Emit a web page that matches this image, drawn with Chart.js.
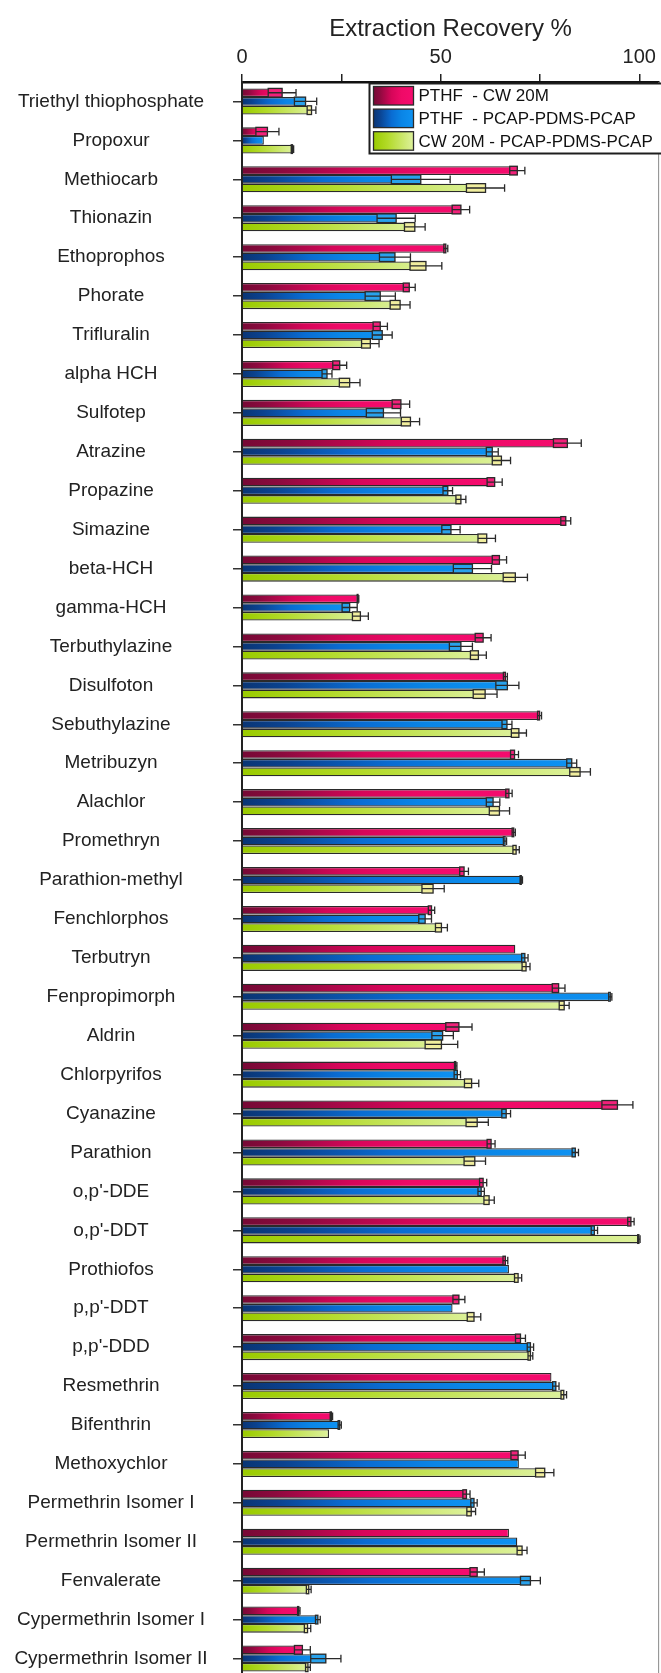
<!DOCTYPE html>
<html>
<head>
<meta charset="utf-8">
<script src="https://cdn.jsdelivr.net/npm/chart.js@4.4.1/dist/chart.umd.min.js"></script>
<style>
  html, body { margin: 0; padding: 0; background: #fff; overflow: hidden; }
  #wrap { position: relative; width: 661px; height: 1690px; }
</style>
</head>
<body>
<div id="wrap"><canvas id="recovery"></canvas></div>
<script>
// Compounds, top to bottom
const compounds = [
  'Triethyl thiophosphate', 'Propoxur', 'Methiocarb', 'Thionazin', 'Ethoprophos',
  'Phorate', 'Trifluralin', 'alpha HCH', 'Sulfotep', 'Atrazine',
  'Propazine', 'Simazine', 'beta-HCH', 'gamma-HCH', 'Terbuthylazine',
  'Disulfoton', 'Sebuthylazine', 'Metribuzyn', 'Alachlor', 'Promethryn',
  'Parathion-methyl', 'Fenchlorphos', 'Terbutryn', 'Fenpropimorph', 'Aldrin',
  'Chlorpyrifos', 'Cyanazine', 'Parathion', "o,p'-DDE", "o,p'-DDT",
  'Prothiofos', "p,p'-DDT", "p,p'-DDD", 'Resmethrin', 'Bifenthrin',
  'Methoxychlor', 'Permethrin Isomer I', 'Permethrin Isomer II', 'Fenvalerate',
  'Cypermethrin Isomer I', 'Cypermethrin Isomer II'
];

const seriesNames = ['PTHF  - CW 20M', 'PTHF  - PCAP-PDMS-PCAP', 'CW 20M - PCAP-PDMS-PCAP'];

// Mean extraction recovery (%) and standard deviation per coating
const pthfCw20m = [
  10.1, 6.4, 69.3, 55.1, 51.3, 42.1, 34.8, 24.6, 40.0, 81.9,
  63.6, 81.5, 64.8, 29.2, 60.7, 66.3, 74.9, 68.6, 67.2, 68.4,
  55.9, 47.7, 68.8, 79.7, 54.6, 53.8, 94.5, 62.7, 60.7, 97.9,
  66.3, 54.6, 70.1, 77.9, 22.5, 69.5, 56.5, 67.2, 59.2, 14.3, 15.2
];
const pthfCw20mSd = [
  3.5, 2.9, 1.9, 2.2, 0.5, 1.5, 1.8, 1.75, 2.2, 3.5,
  1.9, 1.25, 1.8, 0.2, 2.0, 0.5, 0.5, 1.0, 0.8, 0.4,
  1.1, 0.8, 0, 1.6, 3.3, 0.3, 3.9, 1.0, 0.9, 0.8,
  0.6, 1.5, 1.25, 0, 0.3, 1.8, 0.9, 0, 1.8, 0.3, 2.0
];

const pthfPcap = [
  16.0, 5.5, 45.0, 38.8, 38.5, 34.8, 35.3, 21.4, 35.6, 63.0,
  51.8, 52.6, 58.0, 27.1, 55.1, 66.8, 66.7, 83.0, 63.2, 66.2,
  70.3, 46.1, 71.2, 92.7, 50.5, 54.2, 66.5, 83.9, 60.2, 88.7,
  67.2, 53.0, 72.6, 79.0, 24.6, 69.7, 58.4, 69.3, 72.6, 19.1, 21.1
];
const pthfPcapSd = [
  2.8, 0, 7.4, 4.8, 3.9, 3.8, 2.5, 1.25, 4.3, 1.5,
  1.2, 2.3, 4.8, 1.9, 2.9, 2.9, 1.25, 1.25, 1.7, 0.4,
  0.3, 1.6, 0.8, 0.4, 2.7, 0.8, 1.1, 0.8, 0.8, 0.8,
  0, 0, 0.8, 0.8, 0.4, 0, 0.8, 0, 2.5, 0.6, 3.8
];

const cw20mPcap = [
  17.5, 12.7, 61.3, 43.5, 46.3, 39.8, 32.3, 27.1, 42.4, 65.3,
  55.1, 61.6, 68.8, 29.8, 59.5, 61.2, 69.7, 85.1, 64.8, 69.0,
  48.1, 50.2, 71.5, 81.1, 50.2, 57.8, 59.2, 58.6, 62.2, 99.9,
  69.5, 58.4, 72.6, 81.0, 21.9, 76.2, 57.7, 70.5, 16.8, 16.5, 16.6
];
const cw20mPcapSd = [
  1.1, 0.3, 4.8, 2.6, 4.0, 2.5, 2.2, 2.6, 2.3, 2.3,
  1.25, 2.2, 3.05, 2.0, 2.0, 3.0, 1.9, 2.6, 2.55, 0.8,
  2.8, 1.5, 1.0, 1.25, 4.1, 1.8, 2.8, 2.7, 1.3, 0.3,
  0.9, 1.7, 0.6, 0.7, 0, 2.3, 1.1, 1.25, 0.6, 0.8, 0.6
];

// Top axis ticks (minor ticks at 25 and 75 carry no label)
const xTickValues = [0, 25, 50, 75, 100];
const xTickLabels = ['0', '', '50', '', '100'];

const FONT = "'Liberation Sans', Arial, sans-serif";

// Colour ramps, dark at the bar base to bright at the bar end
const ramps = [
  [[0, '#760935'], [0.15, '#8C0A3E'], [0.45, '#D60659'], [0.7, '#EF0A67'], [1, '#F50C6E']],
  [[0, '#0A3574'], [0.15, '#0B428F'], [0.45, '#0A6CD2'], [0.7, '#0A85E6'], [1, '#0E92F2']],
  [[0, '#9ACB00'], [0.35, '#B2DA28'], [1, '#DDF19C']]
];
const sdTints = ['#F2217A', '#29A2EC', '#F1EE9E'];

function rampFill(stops) {
  return (ctx) => {
    const chart = ctx.chart;
    const x = chart.scales && chart.scales.x;
    const last = stops[stops.length - 1][1];
    if (!x || typeof ctx.raw !== 'number') return last;
    const x0 = x.getPixelForValue(0);
    const x1 = x.getPixelForValue(ctx.raw);
    if (!isFinite(x0) || !isFinite(x1) || x1 - x0 < 1) return last;
    const g = chart.ctx.createLinearGradient(x0, 0, x1, 0);
    stops.forEach(([o, c]) => g.addColorStop(o, c));
    return g;
  };
}

// Standard deviation: tinted box inside the bar end, whisker and cap beyond it
const sdBoxes = {
  id: 'sdBoxes',
  afterDatasetsDraw(chart) {
    const { ctx } = chart;
    const x = chart.scales.x;
    chart.data.datasets.forEach((ds, i) => {
      const meta = chart.getDatasetMeta(i);
      meta.data.forEach((bar, j) => {
        const v = ds.data[j], e = ds.sd[j];
        if (!e) return;
        const lo = x.getPixelForValue(v - e);
        const mid = x.getPixelForValue(v);
        const hi = x.getPixelForValue(v + e);
        const h = bar.height, top = bar.y - h / 2;
        ctx.save();
        ctx.fillStyle = ds.sdTint;
        ctx.fillRect(lo, top, mid - lo, h);
        ctx.strokeStyle = '#2a2a2a';
        ctx.lineWidth = 1.3;
        ctx.strokeRect(lo, top, mid - lo, h);
        ctx.beginPath();
        ctx.moveTo(lo, bar.y);
        ctx.lineTo(hi, bar.y);
        ctx.moveTo(hi, top + 0.5);
        ctx.lineTo(hi, top + h - 0.5);
        ctx.stroke();
        ctx.restore();
      });
    });
  }
};

// Thin frame on the right side of the plot
const plotFrame = {
  id: 'plotFrame',
  afterDraw(chart) {
    const { ctx, chartArea: a } = chart;
    ctx.save();
    ctx.strokeStyle = '#8a8a8a';
    ctx.lineWidth = 1;
    ctx.beginPath();
    ctx.moveTo(a.right - 0.5, a.top);
    ctx.lineTo(a.right - 0.5, a.bottom);
    ctx.stroke();
    ctx.restore();
  }
};

// Boxed legend in the upper right corner of the plot
const boxLegend = {
  id: 'boxLegend',
  afterDraw(chart) {
    const { ctx, chartArea: a } = chart;
    const left = a.left + 127.5, top = a.top + 1.5;
    const rowH = 22.6, swW = 40, swH = 18.5;
    ctx.save();
    ctx.fillStyle = '#fff';
    ctx.fillRect(left, top, 320, 70);
    ctx.strokeStyle = '#1e1e1e';
    ctx.lineWidth = 2;
    ctx.strokeRect(left, top, 320, 70);
    chart.data.datasets.forEach((ds, i) => {
      const sx = left + 4, sy = top + 3 + i * rowH;
      const g = ctx.createLinearGradient(sx, 0, sx + swW, 0);
      ramps[i].forEach(([o, c]) => g.addColorStop(o, c));
      ctx.fillStyle = g;
      ctx.fillRect(sx, sy, swW, swH);
      ctx.lineWidth = 1.3;
      ctx.strokeStyle = '#2a2a2a';
      ctx.strokeRect(sx, sy, swW, swH);
      ctx.fillStyle = '#111';
      ctx.font = '17px ' + FONT;
      ctx.textBaseline = 'middle';
      ctx.textAlign = 'left';
      ctx.fillText(ds.label, sx + swW + 5, sy + swH / 2 + 1);
    });
    ctx.restore();
  }
};

// Center compound names in the label column
const labelFontSize = 19;
const measure = document.createElement('canvas').getContext('2d');
measure.font = labelFontSize + 'px ' + FONT;
const widestLabel = Math.max(...compounds.map(s => measure.measureText(s).width));
const yAxisWidth = 242, yTickLen = 9, labelCenter = 111;
const yLabelPad = Math.max(2, yAxisWidth - yTickLen - labelCenter - widestLabel / 2);

const seriesValues = [pthfCw20m, pthfPcap, cw20mPcap];
const seriesSd = [pthfCw20mSd, pthfPcapSd, cw20mPcapSd];

new Chart(document.getElementById('recovery'), {
  type: 'bar',
  data: {
    labels: compounds,
    datasets: seriesValues.map((vals, i) => ({
      label: seriesNames[i],
      data: vals,
      sd: seriesSd[i],
      sdTint: sdTints[i],
      backgroundColor: rampFill(ramps[i]),
      borderColor: '#2a2a2a',
      borderWidth: 1.3,
      borderSkipped: 'start',
      categoryPercentage: 0.67,
      barPercentage: 1.0
    }))
  },
  options: {
    indexAxis: 'y',
    responsive: true,
    maintainAspectRatio: false,
    animation: false,
    layout: { padding: { left: 0, right: 1, top: 0, bottom: 12 } },
    plugins: {
      legend: { display: false },
      tooltip: { enabled: false }
    },
    scales: {
      x: {
        type: 'linear',
        position: 'top',
        min: 0,
        max: 105,
        afterBuildTicks: (s) => { s.ticks = xTickValues.map(v => ({ value: v })); },
        afterFit: (s) => { s.height = 82; },
        ticks: {
          callback: (v, i) => xTickLabels[i],
          font: { family: FONT, size: 20 },
          color: '#222',
          padding: 5,
          maxRotation: 0,
          autoSkip: false
        },
        grid: { drawOnChartArea: false, drawTicks: true, tickLength: 8, color: '#222', lineWidth: 1.5 },
        border: { display: true, color: '#111', width: 2.5 },
        title: {
          display: true,
          text: 'Extraction Recovery %',
          font: { family: FONT, size: 24 },
          color: '#222',
          padding: { top: 15, bottom: 0 }
        }
      },
      y: {
        type: 'category',
        position: 'left',
        afterFit: (s) => {
          s.width = yAxisWidth;
          // label spacing is horizontal only; keep the plot full height
          s.paddingTop = 0;
          s.paddingBottom = 0;
        },
        ticks: {
          font: { family: FONT, size: labelFontSize },
          color: '#222',
          crossAlign: 'center',
          padding: yLabelPad,
          autoSkip: false
        },
        grid: { drawOnChartArea: false, drawTicks: true, tickLength: yTickLen, offset: false, color: '#333', lineWidth: 1.5 },
        border: { display: true, color: '#222', width: 2 }
      }
    }
  },
  plugins: [sdBoxes, plotFrame, boxLegend]
});
</script>
</body>
</html>
